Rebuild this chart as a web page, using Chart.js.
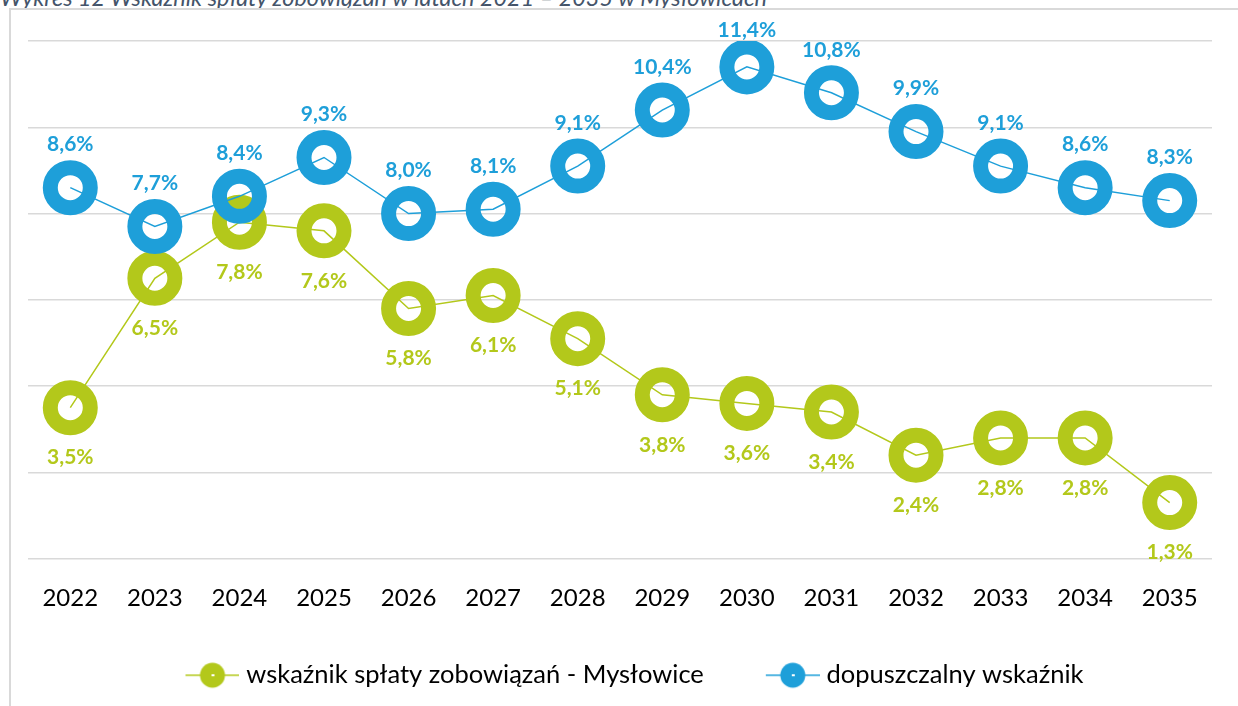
<!DOCTYPE html>
<html lang="pl">
<head>
<meta charset="utf-8">
<title>Wskaźnik spłaty zobowiązań</title>
<script src="https://cdn.jsdelivr.net/npm/chart.js@4.4.0/dist/chart.umd.min.js"></script>
<style>
  html, body { margin: 0; padding: 0; background: #fff; overflow: hidden; }
  .page { position: relative; width: 1238px; height: 706px; }
  .title {
    position: absolute; left: 0; top: -14px; white-space: nowrap;
    font: italic 23.4px/23px Lato, sans-serif; color: #44546a;
  }
  .frame {
    position: absolute; left: 9px; top: 8px; width: 1240px; height: 710px;
    border-top: 2px solid #d9d9d9; border-left: 2px solid #d9d9d9;
  }
  .chart-box { position: absolute; left: 0; top: 0; width: 1238px; height: 706px; }
</style>
</head>
<body>
<div class="page">
  <div class="title">Wykres 12 Wskaźnik spłaty zobowiązań w latach 2021 – 2035 w Mysłowicach</div>
  <div class="frame"></div>
  <div class="chart-box"><canvas id="chart"></canvas></div>
</div>

<script>
// dane z wykresu
const years = ['2022', '2023', '2024', '2025', '2026', '2027', '2028',
               '2029', '2030', '2031', '2032', '2033', '2034', '2035'];
const wskaznikMyslowice = [3.5, 6.5, 7.8, 7.6, 5.8, 6.1, 5.1, 3.8, 3.6, 3.4, 2.4, 2.8, 2.8, 1.3];
const dopuszczalny = [8.6, 7.7, 8.4, 9.3, 8.0, 8.1, 9.1, 10.4, 11.4, 10.8, 9.9, 9.1, 8.6, 8.3];
const seriesNames = ['wskaźnik spłaty zobowiązań - Mysłowice', 'dopuszczalny wskaźnik'];
const yMin = 0, yMax = 12, yStep = 2;

const GREEN = '#b3c81b';
const BLUE = '#1e9fd9';

// znacznik w legendzie: linia + pełne kółko (z lewym marginesem, żeby odsunąć od poprzedniego wpisu)
function legendMarker(color) {
  const c = document.createElement('canvas');
  c.width = 89; c.height = 30;
  const g = c.getContext('2d');
  g.strokeStyle = color; g.lineWidth = 1.5;
  g.beginPath(); g.moveTo(35, 15); g.lineTo(89, 15); g.stroke();
  g.fillStyle = color;
  g.beginPath(); g.arc(62, 15, 12.5, 0, Math.PI * 2); g.fill();
  g.fillStyle = '#fff';
  g.fillRect(61, 14, 3, 2);
  return c;
}

const fmt = v => v.toFixed(1).replace('.', ',') + '%';

// etykiety wartości (zielone pod punktem, niebieskie nad)
const valueLabels = {
  id: 'valueLabels',
  afterDatasetsDraw(chart) {
    const ctx = chart.ctx;
    ctx.save();
    ctx.font = 'bold 21px Lato, sans-serif';
    ctx.textAlign = 'center';
    ctx.textBaseline = 'middle';
    chart.data.datasets.forEach((ds, i) => {
      const meta = chart.getDatasetMeta(i);
      ctx.fillStyle = ds.borderColor;
      meta.data.forEach((pt, j) => {
        let y = ds.labelBelow ? pt.y + 50 : pt.y - 43;
        if (y < 30) y = 30;
        ctx.fillText(fmt(ds.data[j]), pt.x, y);
      });
    });
    ctx.restore();
  }
};

new Chart(document.getElementById('chart'), {
  type: 'line',
  data: {
    labels: years,
    datasets: [
      {
        label: seriesNames[0], data: wskaznikMyslowice, labelBelow: true,
        borderColor: GREEN, backgroundColor: 'transparent', borderWidth: 1.5,
        pointRadius: 20, pointBorderWidth: 15, pointBorderColor: GREEN,
        pointBackgroundColor: 'transparent', order: 1
      },
      {
        label: seriesNames[1], data: dopuszczalny, labelBelow: false,
        borderColor: BLUE, backgroundColor: 'transparent', borderWidth: 1.5,
        pointRadius: 20, pointBorderWidth: 15, pointBorderColor: BLUE,
        pointBackgroundColor: 'transparent', order: 0
      }
    ]
  },
  options: {
    responsive: true,
    maintainAspectRatio: false,
    animation: false,
    layout: { autoPadding: false, padding: { left: 28, right: 26, top: 41, bottom: 8 } },
    plugins: {
      tooltip: { enabled: false },
      legend: {
        position: 'bottom',
        labels: {
          usePointStyle: true,
          pointStyleWidth: 77,
          padding: 33,
          color: '#000',
          font: { family: 'Lato, sans-serif', size: 25.5 },
          generateLabels(chart) {
            return chart.data.datasets.map((ds, i) => ({
              text: ds.label, datasetIndex: i,
              pointStyle: legendMarker(ds.borderColor),
              fillStyle: ds.borderColor, strokeStyle: ds.borderColor,
              lineWidth: 0, hidden: false, fontColor: '#000'
            }));
          },
          sort: (a, b) => a.datasetIndex - b.datasetIndex
        }
      }
    },
    scales: {
      x: {
        offset: true,
        grid: { display: false },
        border: { display: false },
        ticks: { color: '#000', padding: 17, font: { family: 'Lato, sans-serif', size: 24 } }
      },
      y: {
        min: yMin, max: yMax,
        ticks: { display: false, stepSize: yStep },
        grid: { color: '#d9d9d9', lineWidth: 1.5, drawTicks: false },
        border: { display: false }
      }
    }
  },
  plugins: [valueLabels]
});
</script>
</body>
</html>
